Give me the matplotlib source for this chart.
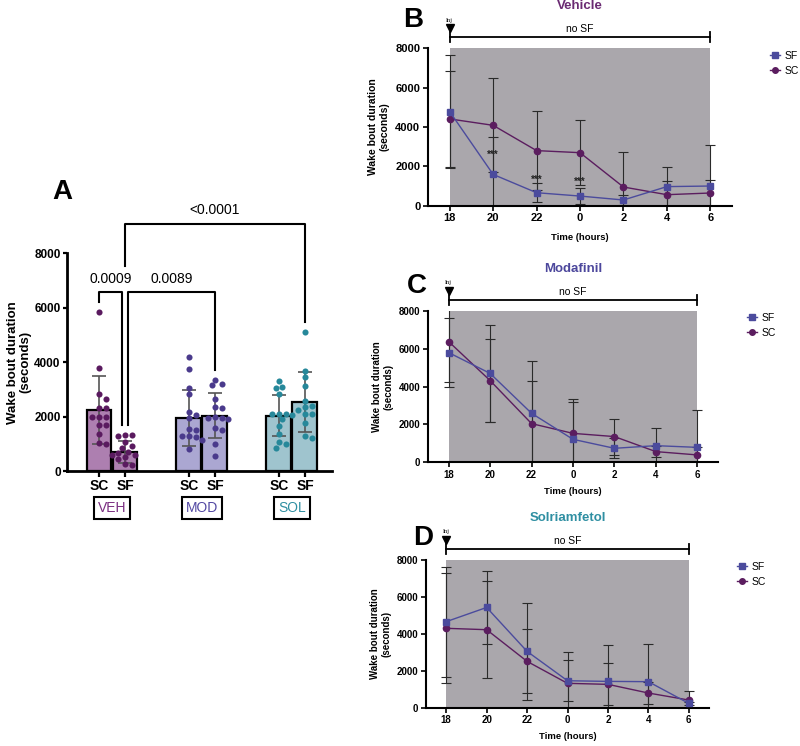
import numpy as np
import matplotlib.pyplot as plt
from matplotlib.lines import Line2D

plt.rcParams['font.family'] = ['Liberation Sans', 'DejaVu Sans']

W, H = 800, 746

# ---------------- panel A : wake bout duration per group ----------------
groupNames = ['VEH', 'MOD', 'SOL']
groupColors = ['#7b2f82', '#5248a3', '#2f8fa2']
barLabels = ['SC', 'SF', 'SC', 'SF', 'SC', 'SF']
barMeans = [2230, 700, 1955, 2030, 2035, 2540]
barSD = [1250, 400, 1025, 830, 745, 1090]
barFill = ['#ad7fb0', '#ad7fb0', '#aba7d2', '#aba7d2', '#9fc4ce', '#9fc4ce']
dotColor = ['#5a1a5f', '#5a1a5f', '#4a3a8c', '#4a3a8c', '#26889a', '#26889a']

vehSC_pts = [5850, 3800, 2820, 2650, 2330, 2330, 2000, 2000, 1980, 1700, 1700, 1350, 1020, 1000]
vehSF_pts = [1320, 1310, 1300, 1050, 930, 850, 700, 660, 600, 600, 500, 450, 250, 230]
modSC_pts = [4200, 3750, 3060, 2820, 2170, 2050, 1950, 1550, 1500, 1300, 1300, 1250, 1150, 820]
modSF_pts = [3350, 3200, 3150, 2650, 2350, 2300, 2000, 1950, 1950, 1900, 1600, 1500, 1000, 550]
solSC_pts = [3300, 3100, 3050, 2850, 2100, 2100, 2100, 2050, 1900, 1650, 1350, 1050, 1000, 850]
solSF_pts = [5100, 3680, 3450, 3120, 2570, 2400, 2350, 2230, 2100, 2100, 1780, 1280, 1200]
allPts = [vehSC_pts, vehSF_pts, modSC_pts, modSF_pts, solSC_pts, solSF_pts]

# ---------------- panels B-D : time course ----------------
hours = ['18', '20', '22', '0', '2', '4', '6']

vehSF = [4780, 1590, 660, 490, 290, 970, 1000]
vehSF_sd = [2880, 1920, 480, 400, 250, 980, 2085]
vehSC = [4410, 4085, 2800, 2695, 950, 560, 645]
vehSC_sd = [2460, 2390, 2010, 1660, 1800, 700, 650]
vehStarIdx = [1, 2, 3]
vehStarY = [2560, 1300, 1220]

modSF = [5800, 4700, 2590, 1215, 740, 880, 790]
modSF_sd = [1810, 2560, 2785, 2135, 530, 920, 1975]
modSC = [6380, 4320, 2045, 1530, 1360, 565, 390]
modSC_sd = [2115, 2180, 2275, 1670, 950, 300, 400]

solSF = [4660, 5430, 3050, 1460, 1425, 1410, 235]
solSF_sd = [2975, 1990, 2640, 1100, 1975, 2020, 100]
solSC = [4300, 4225, 2510, 1320, 1265, 795, 415]
solSC_sd = [2975, 2635, 1730, 1710, 1135, 615, 485]

sfColor = '#4b4b9d'
scColor = '#5b1d5f'
shade = '#aaa7ac'


def rect(left, right, top, bottom):
    return [left / W, 1 - bottom / H, (right - left) / W, (bottom - top) / H]


def swarmOffsets(vals, d=6.0, yPx=0.0272, xPx=26.0):
    # simple beeswarm so that dots do not sit on top of each other
    placed = []
    offs = np.zeros(len(vals))
    for i in np.argsort(vals)[::-1]:
        y = vals[i] * yPx
        x = 0.0
        for k in [0, 1, -1, 2, -2, 3, -3, 4, -4]:
            x = k * d * 0.55
            if all((x - px) ** 2 + (y - py) ** 2 >= (d * 0.95) ** 2 for px, py in placed):
                break
        placed.append((x, y))
        offs[i] = x / xPx
    return offs


fig = plt.figure(figsize=(W / 100, H / 100), dpi=100)

# ================= panel A =================
axA = fig.add_axes(rect(67, 332, 253.5, 471))
pos = np.array([0, 1, 3.46, 4.46, 6.92, 7.92])
axA.bar(pos, barMeans, width=0.96, color=barFill, edgecolor='black', linewidth=1.6, zorder=2)
axA.errorbar(pos, barMeans, yerr=barSD, fmt='none', ecolor='#555555', elinewidth=1.2,
             capsize=5, capthick=1.2, zorder=3)
for ii in range(len(pos)):
    vals = np.array(allPts[ii], dtype=float)
    axA.plot(pos[ii] + swarmOffsets(vals), vals, 'o', color=dotColor[ii], markersize=4.4,
             markeredgewidth=0, zorder=4)

axA.set_xlim(-1.23, 8.96)
axA.set_ylim(0, 8000)
axA.set_yticks([0, 2000, 4000, 6000, 8000])
axA.set_xticks(pos)
axA.set_xticklabels(barLabels, fontsize=10, fontweight='bold')
for lab in axA.get_yticklabels():
    lab.set_fontweight('bold')
    lab.set_fontsize(8.5)
axA.tick_params(width=1.6, length=3, pad=1.5)
axA.tick_params(axis='x', length=4, pad=2)
for s in ['top', 'right']:
    axA.spines[s].set_visible(False)
for s in ['left', 'bottom']:
    axA.spines[s].set_linewidth(2)
axA.set_ylabel('Wake bout duration\n(seconds)', fontsize=9.5, fontweight='bold',
               linespacing=1.0)
axA.yaxis.set_label_coords(-0.135, 0.5)

for gg in range(3):
    xm = (pos[2 * gg] + pos[2 * gg + 1]) / 2
    axA.text(xm, -0.17, groupNames[gg], transform=axA.get_xaxis_transform(), ha='center',
             va='center', fontsize=10, color=groupColors[gg],
             bbox=dict(boxstyle='square,pad=0.3', fc='white', ec='black', lw=1.5))

# significance brackets
def bracket(ax, x0, x1, y, y0, y1, label, ytext):
    ax.plot([x0, x0, x1, x1], [y0, y, y, y1], color='black', lw=1.5, clip_on=False, zorder=5)
    ax.text((x0 + x1) / 2, ytext, label, ha='center', va='center', fontsize=10)

bracket(axA, pos[0], 0.87, 6580, 6220, 1700, '0.0009', 7060)
bracket(axA, 1.13, pos[3], 6580, 1700, 3710, '0.0089', 7060)
bracket(axA, pos[1], pos[5], 9100, 7530, 5490, '<0.0001', 9600)
fig.text(62 / W, 1 - 192 / H, 'A', fontsize=20, fontweight='bold', ha='center', va='center')


# ================= panels B-D =================
def timePanel(r, title, titleColor, letter, letterXY, sf, sfsd, sc, scsd, legendXY,
              tickSize, labelSize, xlabPad, stars=None):
    ax = fig.add_axes(r)
    x = np.arange(len(hours))
    ax.fill_between([x[0], x[-1]], 0, 8000, color=shade, lw=0, zorder=0)
    ax.errorbar(x, sf, yerr=sfsd, fmt='none', ecolor='#2a2a2a', elinewidth=0.8,
                capsize=3.5, capthick=0.8, zorder=2)
    ax.errorbar(x, sc, yerr=scsd, fmt='none', ecolor='#2a2a2a', elinewidth=0.8,
                capsize=3.5, capthick=0.8, zorder=2)
    ax.plot(x, sf, '-s', color=sfColor, lw=1, markersize=4.5, zorder=4)
    ax.plot(x, sc, '-o', color=scColor, lw=1, markersize=4.5, zorder=3)
    if stars is not None:
        for xi, yi in zip(*stars):
            ax.text(x[xi], yi, '***', ha='center', va='center', fontsize=7, fontweight='bold',
                    color='#222222', zorder=5)
    ax.set_xlim(-0.5, 6.5)
    ax.set_ylim(0, 8000)
    ax.set_xticks(x)
    ax.set_xticklabels(hours)
    ax.set_yticks([0, 2000, 4000, 6000, 8000])
    for lab in ax.get_xticklabels() + ax.get_yticklabels():
        lab.set_fontweight('bold')
        lab.set_fontsize(tickSize)
    ax.tick_params(width=1.2, length=3.5, pad=2)
    for s in ['top', 'right']:
        ax.spines[s].set_visible(False)
    for s in ['left', 'bottom']:
        ax.spines[s].set_linewidth(1.5)
    ax.set_ylabel('Wake bout duration\n(seconds)', fontsize=labelSize, fontweight='bold')
    ax.set_xlabel('Time (hours)', fontsize=6.8, fontweight='bold', labelpad=xlabPad)

    # injection marker and "no SF" bracket above the plot
    pxu = 8000 / (r[3] * H)
    yb = 8000 + 11 * pxu
    ax.plot([x[0], x[-1]], [yb, yb], color='black', lw=1.3, clip_on=False)
    for xe in [x[0], x[-1]]:
        ax.plot([xe, xe], [yb - 5 * pxu, yb + 5 * pxu], color='black', lw=1.3, clip_on=False)
    ax.text(3, yb + 3 * pxu, 'no SF', ha='center', va='bottom', fontsize=7.5)
    ax.plot([x[0]], [8000 + 20 * pxu], 'v', color='black', markersize=5.5, clip_on=False)
    ax.text(x[0], 8000 + 28 * pxu, 'Inj', ha='center', va='center', fontsize=4.5,
            family=['Liberation Serif', 'DejaVu Serif'])
    ax.text(3, 8000 + 42 * pxu, title, ha='center', va='center', fontsize=9.5,
            fontweight='bold', color=titleColor)
    fig.text(letterXY[0] / W, 1 - letterXY[1] / H, letter, fontsize=20, fontweight='bold',
             ha='center', va='center')

    handles = [Line2D([], [], color=sfColor, marker='s', lw=1, markersize=4),
               Line2D([], [], color=scColor, marker='o', lw=1, markersize=4)]
    ax.legend(handles, ['SF', 'SC'], loc='upper left',
              bbox_to_anchor=(legendXY[0] / W, 1 - legendXY[1] / H),
              bbox_transform=fig.transFigure, frameon=False, fontsize=7.5,
              handlelength=1.0, handletextpad=0.4, labelspacing=0.45, borderpad=0,
              borderaxespad=0)
    return ax


timePanel(rect(428, 732, 48.3, 205.7), 'Vehicle', '#6a2a72', 'B', (413, 20),
          vehSF, vehSF_sd, vehSC, vehSC_sd, (770, 51), 8, 7.5, 7,
          stars=(vehStarIdx, vehStarY))
timePanel(rect(428, 718, 311, 462.3), 'Modafinil', '#4c479c', 'C', (417, 286),
          modSF, modSF_sd, modSC, modSC_sd, (747, 313), 7, 7, 5)
timePanel(rect(426, 709, 560, 707.7), 'Solriamfetol', '#2f8fa2', 'D', (423, 538),
          solSF, solSF_sd, solSC, solSC_sd, (737, 562), 7, 7, 5)

fig.savefig('out.png', dpi=100)
